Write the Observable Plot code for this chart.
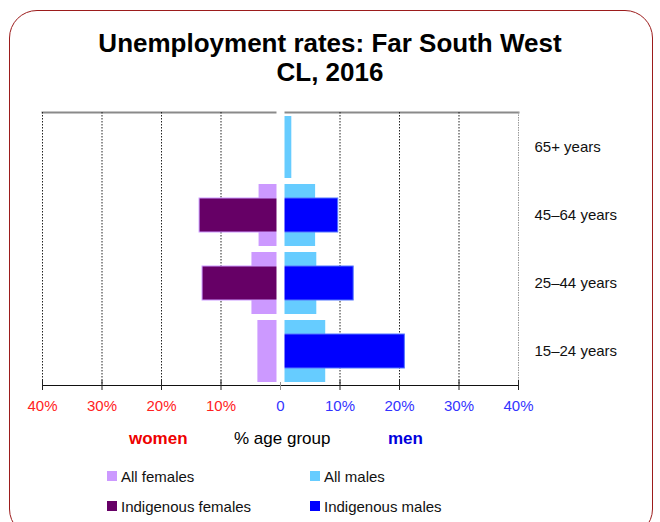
<!DOCTYPE html>
<html>
<head>
<meta charset="utf-8">
<script src="https://cdn.jsdelivr.net/npm/d3@7"></script>
<script src="https://cdn.jsdelivr.net/npm/@observablehq/plot@0.6"></script>
<style>
  html, body { margin: 0; padding: 0; background: #fff; }
  body { width: 660px; height: 522px; overflow: hidden; position: relative; font-family: "Liberation Sans", Arial, sans-serif; }
  .box { position: absolute; left: 9px; top: 10px; width: 642px; height: 525px; border: 1.5px solid #9c1c1c; border-radius: 28px; }
  .title { position: absolute; left: 0; width: 660px; text-align: center; font-weight: bold; font-size: 26px; line-height: 26px; color: #000; }
  #chart { position: absolute; left: 0; top: 100px; }
  .lab { position: absolute; font-size: 17px; line-height: 17px; white-space: nowrap; }
  .leg { position: absolute; font-size: 15px; line-height: 15px; white-space: nowrap; color: #111; }
  .sw { position: absolute; width: 10px; height: 10px; }
</style>
</head>
<body>
<div class="box"></div>
<div class="title" style="top:30px">Unemployment rates: Far South West</div>
<div class="title" style="top:59px">CL, 2016</div>
<div id="chart"></div>
<div class="lab" style="left:129px;top:430px;color:#ee0000;font-weight:bold">women</div>
<div class="lab" style="left:234px;top:430px;color:#000">% age group</div>
<div class="lab" style="left:388px;top:430px;color:#0000dd;font-weight:bold">men</div>
<div id="legend"></div>
<script>
const ages = ["65+ years", "45–64 years", "25–44 years", "15–24 years"];
const allFemales = [0, 3.6, 4.8, 3.8];
const indigenousFemales = [0, 13.6, 13.1, 0];
const allMales = [1.9, 5.9, 6.1, 7.6];
const indigenousMales = [0, 9.7, 12.3, 20.9];
const xTicks = [-40, -30, -20, -10, 0, 10, 20, 30, 40];
const seriesNames = ["All females", "All males", "Indigenous females", "Indigenous males"];
const seriesColors = ["#cc99ff", "#66ccff", "#660066", "#0000ff"];

const rows = (vals, sign) => ages.map((a, i) => ({age: a, v: sign * vals[i]})).filter(d => d.v !== 0);

const chart = Plot.plot({
  width: 660,
  height: 330,
  marginTop: 12,
  marginBottom: 45,
  marginLeft: 42,
  marginRight: 142,
  style: {fontFamily: "Liberation Sans, Arial, sans-serif", fontSize: "15px", background: "transparent", color: "#111"},
  x: {domain: [-40, 40], axis: null},
  y: {domain: ages, padding: 0},
  marks: [
    Plot.frame({anchor: "top", stroke: "#8a8a8a", strokeWidth: 2}),
    Plot.ruleX(xTicks.filter(d => d !== 0 && d !== 40), {x: d => d, stroke: "#222", strokeDasharray: "1.5,1.5"}),
    Plot.ruleX([40], {x: d => d, stroke: "#999", strokeDasharray: "1.5,1"}),
    Plot.barX(rows(allFemales, -1), {x1: 0, x2: "v", y: "age", fill: seriesColors[0], insetTop: 3, insetBottom: 3}),
    Plot.barX(rows(allMales, 1), {x1: 0, x2: "v", y: "age", fill: seriesColors[1], insetTop: 3, insetBottom: 3}),
    Plot.barX(rows(indigenousFemales, -1), {x1: 0, x2: "v", y: "age", fill: seriesColors[2], stroke: "#cc99ff", strokeWidth: 1, insetTop: 17, insetBottom: 17}),
    Plot.barX(rows(indigenousMales, 1), {x1: 0, x2: "v", y: "age", fill: seriesColors[3], stroke: "#5577ff", strokeWidth: 1, insetTop: 17, insetBottom: 17}),
    Plot.ruleX([0], {x: d => d, stroke: "#fff", strokeWidth: 8, insetTop: -3, insetBottom: 1}),
    Plot.frame({anchor: "bottom", stroke: "#111", strokeWidth: 1}),
    Plot.ruleX(xTicks.filter(d => d !== 0), {x: d => d, stroke: "#222", insetTop: 268, insetBottom: -5}),
    Plot.ruleX([0], {x: d => d, stroke: "#999", insetTop: 270, insetBottom: -5}),
    Plot.text(xTicks.filter(d => d < 0), {x: d => d, text: d => Math.abs(d) + "%", fill: "#f22", frameAnchor: "bottom", dy: 25, fontSize: 15}),
    Plot.text(xTicks.filter(d => d >= 0), {x: d => d, text: d => d === 0 ? "0" : d + "%", fill: "#33f", frameAnchor: "bottom", dy: 25, fontSize: 15}),
    Plot.axisY({anchor: "right", tickSize: 0, tickPadding: 16, fontSize: 15, label: null})
  ]
});
document.getElementById("chart").appendChild(chart);

const legend = document.getElementById("legend");
const legPos = [[107, 471], [310, 471], [107, 501], [310, 501]];
seriesNames.forEach((name, i) => {
  const [lx, ly] = legPos[i];
  const sw = document.createElement("div");
  sw.className = "sw";
  sw.style.left = lx + "px";
  sw.style.top = ly + "px";
  sw.style.background = seriesColors[i];
  legend.appendChild(sw);
  const t = document.createElement("div");
  t.className = "leg";
  t.style.left = (lx + 14) + "px";
  t.style.top = (ly - 2) + "px";
  t.textContent = name;
  legend.appendChild(t);
});
</script>
</body>
</html>
